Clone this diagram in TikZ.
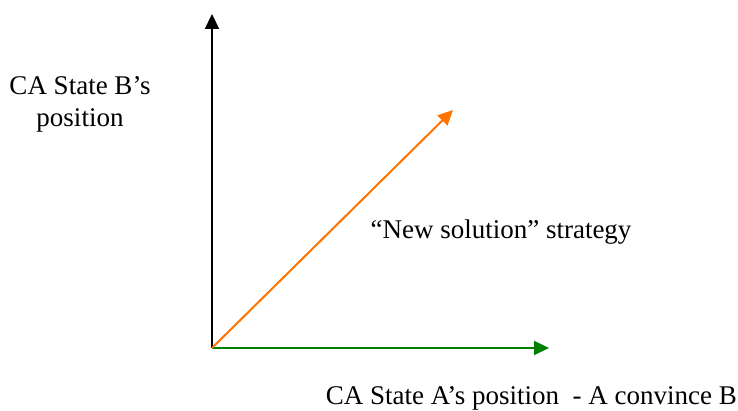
\documentclass[tikz,border=0pt]{standalone}
\usepackage{fontspec}
\setmainfont{Liberation Serif}
\usepackage{tikz}
\usetikzlibrary{arrows.meta, positioning}

\begin{document}
\begin{tikzpicture}[
  x=1pt, y=1pt, font=\fontsize{27}{32}\selectfont,
  >={Triangle[length=15pt, width=14pt]},
  axis/.style={->, line width=2.2pt, draw=black},
  lbl/.style={inner sep=0pt, align=center}]
  \useasboundingbox (0,0) rectangle (738,411);
  \coordinate (o) at (212,63);
  \coordinate (ytip) at (212,397);
  \coordinate (xtip) at (549,63);
  \coordinate (stip) at (453,301);
  \draw[axis] (o) -- (ytip);
  \draw[axis, draw=green!50!black, fill=green!50!black] (o) -- (xtip);
  \draw[axis, draw=orange!90!red, line width=2pt] (o) -- (stip);
  \node[lbl] (ylbl) at (80,307) {CA State B’s\\position};
  \node[lbl] (slbl) at (501,179) {“New solution” strategy};
  \node[lbl, anchor=east] (xlbl) at (737,13) {CA State A’s position\ \ - A convince B};
\end{tikzpicture}
\end{document}
